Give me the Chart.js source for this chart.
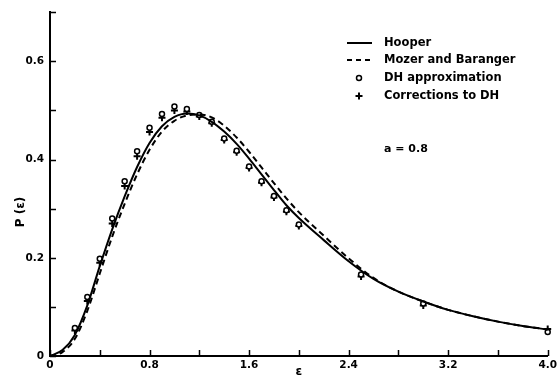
<!DOCTYPE html>
<html>
<head>
<meta charset="utf-8">
<script src="https://cdn.jsdelivr.net/npm/chart.js@4.4.1/dist/chart.umd.min.js"></script>
<style>
  html, body { margin: 0; padding: 0; background: #fff; }
  #chart { display: block; }
</style>
</head>
<body>
<canvas id="chart" width="560" height="379"></canvas>
<script>
// epsilon values where the two theory curves are sampled
const curveEps = [0, 0.1, 0.2, 0.3, 0.4, 0.5, 0.6, 0.7, 0.8, 0.9, 1.0,
                  1.1, 1.2, 1.3, 1.4, 1.5, 1.6, 1.7, 1.8, 1.9, 2.0,
                  2.2, 2.4, 2.6, 2.8, 3.0, 3.2, 3.4, 3.6, 3.8, 4.0];
const hooper = [0, 0.012, 0.043, 0.103, 0.183, 0.258, 0.325, 0.385, 0.434, 0.468, 0.487,
                0.494, 0.490, 0.477, 0.457, 0.432, 0.402, 0.370, 0.338, 0.307, 0.281,
                0.236, 0.193, 0.157, 0.131, 0.111, 0.094, 0.081, 0.070, 0.061, 0.054];
const mozerBaranger = [0, 0.008, 0.035, 0.092, 0.168, 0.243, 0.310, 0.370, 0.420, 0.457, 0.479,
                       0.490, 0.492, 0.486, 0.469, 0.445, 0.416, 0.384, 0.352, 0.321, 0.293,
                       0.245, 0.199, 0.159, 0.131, 0.111, 0.094, 0.081, 0.070, 0.061, 0.054];

// epsilon values of the plotted points
const pointEps = [0.2, 0.3, 0.4, 0.5, 0.6, 0.7, 0.8, 0.9, 1.0, 1.1,
                  1.2, 1.3, 1.4, 1.5, 1.6, 1.7, 1.8, 1.9, 2.0, 2.5, 3.0, 4.0];
const dhApprox = [0.057, 0.120, 0.198, 0.280, 0.356, 0.417, 0.465, 0.493, 0.508, 0.503,
                  0.491, 0.477, 0.443, 0.418, 0.386, 0.356, 0.326, 0.297, 0.268, 0.166, 0.107, 0.049];
const dhCorrected = [0.052, 0.112, 0.190, 0.270, 0.346, 0.407, 0.456, 0.485, 0.500, 0.498,
                     0.488, 0.474, 0.440, 0.415, 0.383, 0.353, 0.323, 0.294, 0.265, 0.162, 0.103, 0.055];

const xLabelValues = [0, 0.8, 1.6, 2.4, 3.2, 4.0];
const yLabelValues = [0, 0.2, 0.4, 0.6];

const seriesNames = ['Hooper', 'Mozer and Baranger', 'DH approximation', 'Corrections to DH'];
const noteText = 'a = 0.8';

const FONT = '"DejaVu Sans", Arial, sans-serif';

function toXY(xs, ys) {
    return xs.map((x, i) => ({ x: x, y: ys[i] }));
}

function labelFor(list, v) {
    const hit = list.find((t) => Math.abs(t - v) < 1e-6);
    if (hit === undefined) return '';
    return hit === 0 ? '0' : hit.toFixed(1);
}

// inward tick marks, axis titles, legend and the a = 0.8 note
const decorations = {
    id: 'decorations',
    afterDraw(chart) {
        const ctx = chart.ctx;
        const xs = chart.scales.x;
        const ys = chart.scales.y;
        const area = chart.chartArea;
        ctx.save();
        ctx.strokeStyle = '#000';
        ctx.fillStyle = '#000';
        ctx.lineWidth = 1.5;
        ctx.beginPath();
        for (let v = 0; v <= 4.0001; v += 0.4) {
            const px = Math.round(xs.getPixelForValue(v)) + 0.5;
            ctx.moveTo(px, area.bottom);
            ctx.lineTo(px, area.bottom - 6);
        }
        for (let v = 0; v <= 0.7001; v += 0.1) {
            const py = Math.round(ys.getPixelForValue(v)) + 0.5;
            ctx.moveTo(area.left, py);
            ctx.lineTo(area.left + 6, py);
        }
        ctx.stroke();

        // axis titles
        ctx.font = 'bold 12px ' + FONT;
        ctx.textAlign = 'center';
        ctx.textBaseline = 'middle';
        ctx.fillText('\u03b5', (area.left + area.right) / 2, 372);
        ctx.save();
        ctx.translate(21, 212);
        ctx.rotate(-Math.PI / 2);
        ctx.fillText('P (\u03b5)', 0, 0);
        ctx.restore();

        // legend
        const lx0 = 347, lx1 = 372, tx = 384;
        const rows = [43, 60, 78, 96];
        ctx.lineWidth = 2;
        ctx.beginPath();
        ctx.moveTo(lx0, rows[0]);
        ctx.lineTo(lx1, rows[0]);
        ctx.stroke();
        ctx.setLineDash([5, 4]);
        ctx.beginPath();
        ctx.moveTo(lx0, rows[1]);
        ctx.lineTo(lx1, rows[1]);
        ctx.stroke();
        ctx.setLineDash([]);
        ctx.lineWidth = 1.5;
        ctx.beginPath();
        ctx.arc(359, rows[2], 2.5, 0, Math.PI * 2);
        ctx.stroke();
        ctx.beginPath();
        ctx.moveTo(355.5, rows[3]);
        ctx.lineTo(362.5, rows[3]);
        ctx.moveTo(359, rows[3] - 3.5);
        ctx.lineTo(359, rows[3] + 3.5);
        ctx.lineWidth = 2;
        ctx.stroke();

        ctx.font = 'bold 11.5px ' + FONT;
        ctx.textAlign = 'left';
        seriesNames.forEach((name, i) => ctx.fillText(name, tx, rows[i]));
        ctx.font = 'bold 11px ' + FONT;
        ctx.fillText(noteText, tx, 149);
        ctx.restore();
    }
};

const ctx = document.getElementById('chart').getContext('2d');
new Chart(ctx, {
    type: 'line',
    data: {
        datasets: [
            {
                label: seriesNames[0],
                data: toXY(curveEps, hooper),
                borderColor: '#000',
                borderWidth: 2,
                pointRadius: 0,
                cubicInterpolationMode: 'monotone',
                fill: false,
                clip: false,
            },
            {
                label: seriesNames[1],
                data: toXY(curveEps, mozerBaranger),
                borderColor: '#000',
                borderWidth: 2,
                borderDash: [6, 4],
                pointRadius: 0,
                cubicInterpolationMode: 'monotone',
                fill: false,
                clip: false,
            },
            {
                label: seriesNames[2],
                data: toXY(pointEps, dhApprox),
                showLine: false,
                pointStyle: 'circle',
                pointRadius: 2.5,
                pointBorderWidth: 1.5,
                pointBorderColor: '#000',
                pointBackgroundColor: '#fff',
                clip: false,
            },
            {
                label: seriesNames[3],
                data: toXY(pointEps, dhCorrected),
                showLine: false,
                pointStyle: 'cross',
                pointRadius: 3.5,
                pointBorderWidth: 2,
                pointBorderColor: '#000',
                clip: false,
            },
        ],
    },
    options: {
        responsive: false,
        animation: false,
        devicePixelRatio: 1,
        layout: { padding: { left: 0, right: 11, top: 6, bottom: 0 } },
        plugins: {
            legend: { display: false },
            tooltip: { enabled: false },
        },
        scales: {
            x: {
                type: 'linear',
                min: 0,
                max: 4,
                afterFit: (s) => { s.height = 23; },
                border: { display: true, color: '#000', width: 2 },
                grid: { display: false, drawTicks: false },
                ticks: {
                    stepSize: 0.4,
                    autoSkip: false,
                    maxRotation: 0,
                    padding: 3,
                    color: '#000',
                    font: { family: FONT, size: 10.5, weight: 'bold' },
                    callback: (v) => labelFor(xLabelValues, v),
                },
            },
            y: {
                type: 'linear',
                min: 0,
                max: 0.7,
                afterFit: (s) => { s.width = 50; },
                border: { display: true, color: '#000', width: 2 },
                grid: { display: false, drawTicks: false },
                ticks: {
                    stepSize: 0.1,
                    autoSkip: false,
                    padding: 6,
                    color: '#000',
                    font: { family: FONT, size: 10.5, weight: 'bold' },
                    callback: (v) => labelFor(yLabelValues, v),
                },
            },
        },
    },
    plugins: [decorations],
});
</script>
</body>
</html>
